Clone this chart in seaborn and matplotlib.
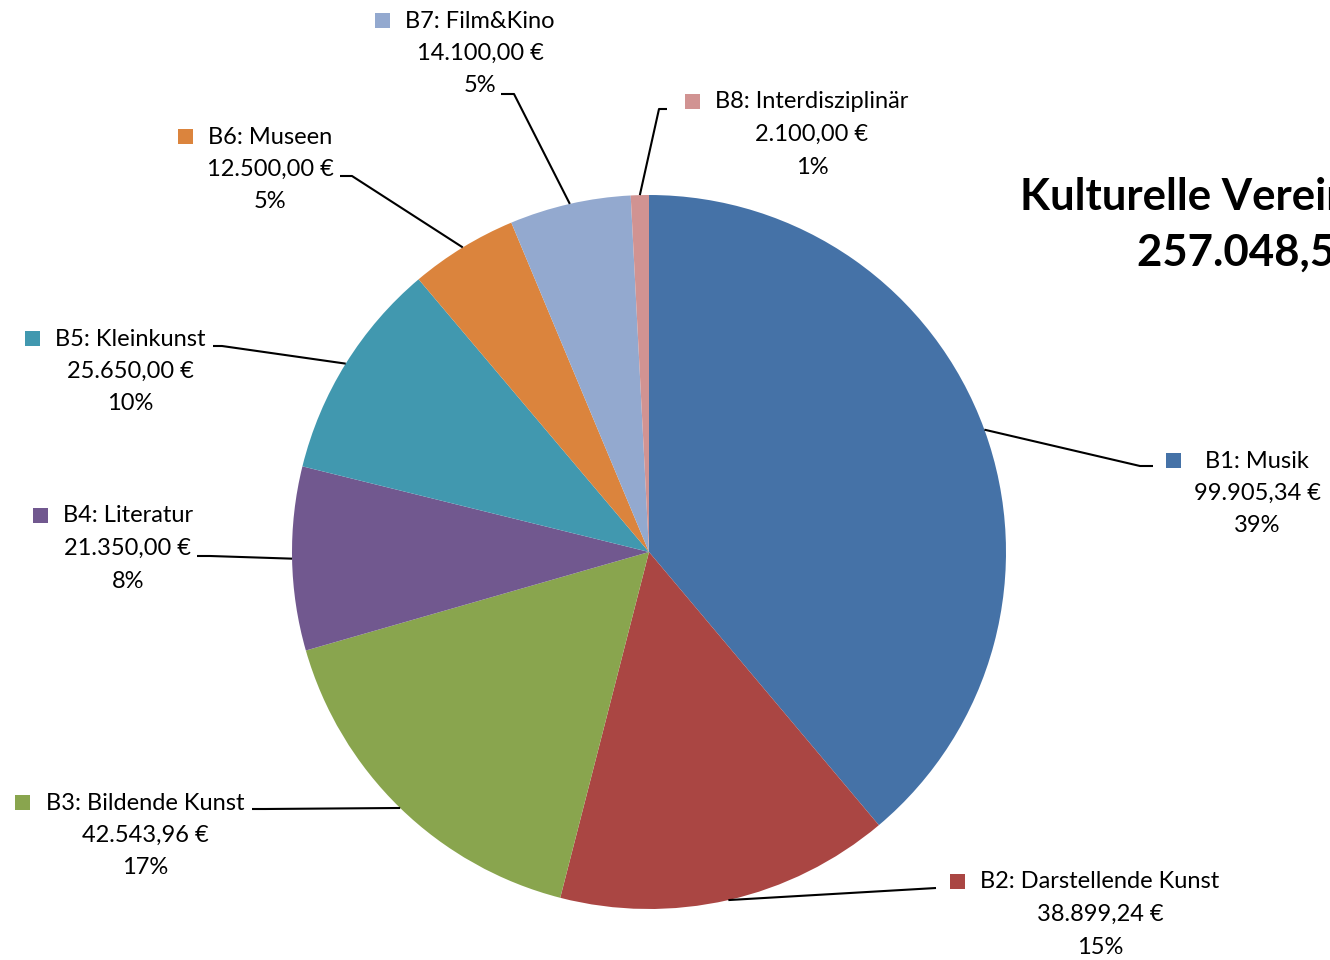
import numpy as np
import matplotlib
matplotlib.use('Agg')
import matplotlib.pyplot as plt
import seaborn as sns
from matplotlib.patches import Rectangle

# data
categories = ['B1: Musik', 'B2: Darstellende Kunst', 'B3: Bildende Kunst', 'B4: Literatur',
              'B5: Kleinkunst', 'B6: Museen', 'B7: Film&Kino', 'B8: Interdisziplinär']
amounts = [99905.34, 38899.24, 42543.96, 21350.00, 25650.00, 12500.00, 14100.00, 2100.00]
colors = ['#4572A7', '#AA4643', '#89A54E', '#71588F', '#4198AF', '#DB843D', '#93A9CF', '#D19392']
title_lines = ['Kulturelle Vereine', '257.048,54 €']

# layout (image pixels, y down)
W, H = 1330, 960
pie_center = (649, 552)
pie_radius = 357
label_pos = [(1257, 461), (1100, 882), (145, 803), (128, 516),
             (130, 339), (270, 137), (480, 21), (812, 102)]
key_left = [1166, 950, 15, 33, 25, 178, 375, 685]
leader_elbow = [(1140, 466), (936, 888), (265, 809), (210, 556),
                (222, 346), (352, 176), (514, 94), (659, 109)]
leader_end = [(1153, 466), (936, 888), (252, 809), (197, 556),
              (213, 346), (340, 176), (501, 94), (667, 109)]


def euro(v):
    s = f'{v:,.2f}'.replace(',', 'X').replace('.', ',').replace('X', '.')
    return s + ' €'


def fy(y):
    return H - y


sns.set_theme(style='white')
plt.rcParams['font.family'] = ['Lato', 'DejaVu Sans']
pal = sns.color_palette(colors)

fig = plt.figure(figsize=(W / 100, H / 100), dpi=100)
ax = fig.add_axes([0, 0, 1, 1])

wedges, _ = ax.pie(amounts, colors=pal, startangle=90, counterclock=False,
                   center=(pie_center[0], fy(pie_center[1])), radius=pie_radius,
                   wedgeprops=dict(linewidth=0), frame=True)
ax.set_xlim(0, W)
ax.set_ylim(0, H)
ax.axis('off')

total = sum(amounts)
fs = 17
for i, w in enumerate(wedges):
    # leader line from slice middle on the rim
    mid = np.deg2rad((w.theta1 + w.theta2) / 2)
    x0 = pie_center[0] + pie_radius * np.cos(mid)
    y0 = fy(pie_center[1]) + pie_radius * np.sin(mid)
    ex, ey = leader_elbow[i]
    sx, sy = leader_end[i]
    ax.plot([x0, ex, sx], [y0, fy(ey), fy(sy)], color='black', lw=1.5,
            solid_capstyle='butt', zorder=3)

    cx, cy = label_pos[i]
    lines = [categories[i], euro(amounts[i]), f'{amounts[i] / total * 100:.0f}%']
    for k, t in enumerate(lines):
        ax.text(cx, fy(cy + k * 32.5), t, ha='center', va='center',
                fontsize=fs, color='black')
    ax.add_patch(Rectangle((key_left[i], fy(cy - 1) - 7.5), 15, 15,
                           facecolor=pal[i], edgecolor='none'))

# title runs past the right edge, as in the original
ax.text(1020, fy(197), title_lines[0], ha='left', va='center',
        fontsize=31.5, fontweight='bold', color='black')
ax.text(1137, fy(253), title_lines[1], ha='left', va='center',
        fontsize=31.5, fontweight='bold', color='black')

fig.savefig('out.png', dpi=100, facecolor='white')
